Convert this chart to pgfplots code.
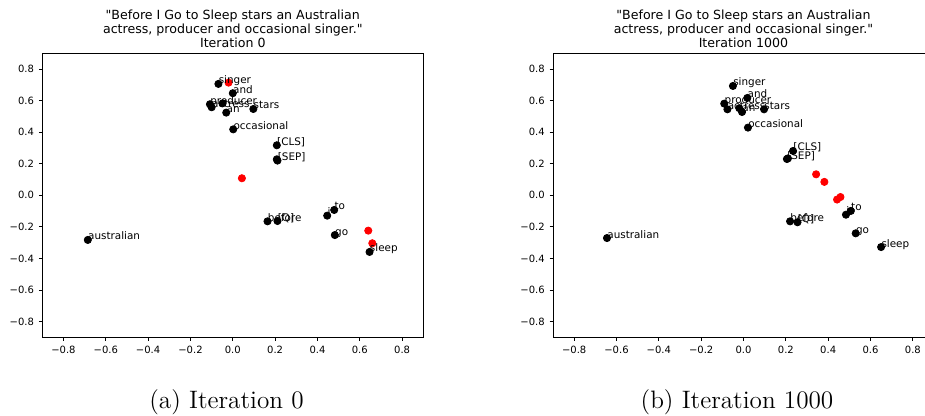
\documentclass[border=0pt]{standalone}
\usepackage{fontspec}
\newfontfamily\dejavu[Ligatures=TeXOff]{DejaVu Sans}
\usepackage{pgfplots}
\usepackage{pgfplotstable}
\pgfplotsset{compat=1.18}

\pgfplotstableread{
x y label
-0.068 0.706 singer
0.000 0.647 and
-0.108 0.577 producer
-0.100 0.558 actress
-0.048 0.583 {,}
-0.031 0.524 an
0.097 0.547 stars
0.002 0.418 occasional
0.208 0.317 [CLS]
0.208 0.228 {}
0.211 0.220 [SEP]
0.164 -0.165 before
0.211 -0.163 [Q]
0.446 -0.129 i
0.479 -0.093 to
0.482 -0.252 go
0.646 -0.359 sleep
-0.685 -0.283 australian
}\blackA

\pgfplotstableread{
x y
-0.020 0.714
0.043 0.108
0.640 -0.224
0.659 -0.304
}\redA

\pgfplotstableread{
x y label
-0.050 0.693 singer
0.018 0.617 and
-0.091 0.581 producer
-0.076 0.545 actress
-0.020 0.552 {,}
-0.007 0.528 an
0.097 0.545 stars
0.021 0.429 occasional
0.234 0.281 [CLS]
0.210 0.234 {}
0.205 0.230 [SEP]
0.220 -0.165 before
0.255 -0.171 [Q]
0.484 -0.123 i
0.507 -0.099 to
0.530 -0.241 go
0.650 -0.328 sleep
-0.645 -0.271 australian
}\blackB

\pgfplotstableread{
x y
0.343 0.133
0.382 0.085
0.442 -0.027
0.458 -0.011
}\redB

\pgfplotsset{
  emb/.style={
    scale only axis, width=190.5pt, height=142pt,
    xmin=-0.9, xmax=0.9, ymin=-0.9, ymax=0.9,
    xtick={-0.8,-0.6,-0.4,-0.2,0,0.2,0.4,0.6,0.8},
    ytick={-0.8,-0.6,-0.4,-0.2,0,0.2,0.4,0.6,0.8},
    xticklabels={−0.8,−0.6,−0.4,−0.2,0.0,0.2,0.4,0.6,0.8},
    yticklabels={−0.8,−0.6,−0.4,−0.2,0.0,0.2,0.4,0.6,0.8},
    xtick pos=bottom, ytick pos=left,
    tick align=outside, major tick length=1.75pt,
    tick style={black, line width=0.45pt},
    axis line style={black, line width=0.5pt},
    ticklabel style={font=\dejavu\fontsize{5}{6}\selectfont, text=black},
    xticklabel style={inner sep=0pt, yshift=-2.2pt},
    yticklabel style={inner sep=0pt, xshift=-2.2pt},
    title style={font=\dejavu\fontsize{6.3}{7}\selectfont, align=center,
      at={(0.5,1)}, anchor=south, inner sep=0pt, yshift=-3.6pt},
    clip=false,
  },
  dots/.style={only marks, mark=*, mark size=1.8pt},
  lab/.style={nodes near coords, point meta=explicit symbolic,
    nodes near coords style={anchor=base west, inner sep=0pt,
      font=\dejavu\fontsize{5.2}{6}\selectfont, text=black}},
}

\begin{document}
\begin{tikzpicture}
\useasboundingbox (0,0) rectangle (462.5pt,208pt);
\clip (0,0) rectangle (462.5pt,208pt);

\begin{axis}[emb, at={(21.15pt,39.35pt)}, anchor=south west,
  title={"Before I Go to Sleep stars an Australian\\actress, producer and occasional singer."\\Iteration 0}]
\addplot[dots, red] table[x=x,y=y]{\redA};
\addplot[dots, black, lab] table[x=x,y=y,meta=label]{\blackA};
\end{axis}

\begin{axis}[emb, at={(276.5pt,39.35pt)}, anchor=south west,
  title={"Before I Go to Sleep stars an Australian\\actress, producer and occasional singer."\\Iteration 1000}]
\addplot[dots, red] table[x=x,y=y]{\redB};
\addplot[dots, black, lab] table[x=x,y=y,meta=label]{\blackB};
\end{axis}

\node[anchor=base, font=\fontsize{12.6}{14}\selectfont, inner sep=0pt] at (113.25pt,3.5pt) {(a) Iteration 0};
\node[anchor=base, font=\fontsize{12.6}{14}\selectfont, inner sep=0pt] at (368.5pt,3.5pt) {(b) Iteration 1000};
\end{tikzpicture}
\end{document}
